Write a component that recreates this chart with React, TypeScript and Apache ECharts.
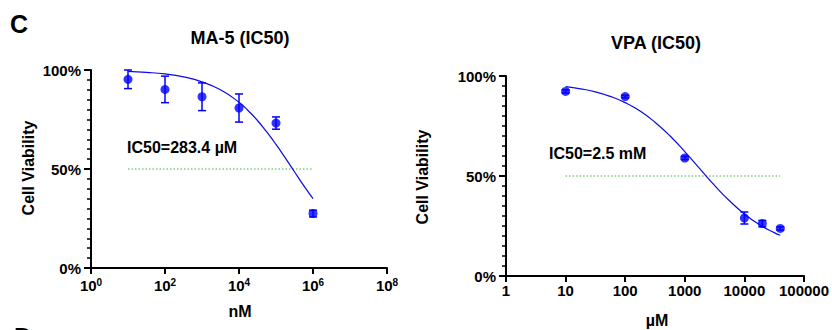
import React, { useEffect, useRef } from "react";
import * as echarts from "echarts";

// ---- Data ----
// MA-5, concentrations in nM
const ma5Conc = [10, 100, 1000, 10000, 100000, 1000000];
const ma5Viability = [95.3, 90.2, 86.5, 80.8, 73.2, 27.5];
const ma5Err = [4.7, 6.7, 7.0, 7.1, 3.1, 1.7];
const ma5FitConc = [10, 31.6, 100, 316, 1000, 3160, 10000, 17800, 31600, 56200, 100000, 178000, 316000, 562000, 1000000];
const ma5Fit = [99.3, 98.8, 98.0, 96.5, 94.0, 90.0, 83.7, 79.4, 74.5, 68.7, 62.4, 55.6, 48.6, 41.6, 35.0];
const ma5HalfConc = [10, 1000000];
const ma5Half = [50, 50];

// VPA, concentrations in µM
const vpaConc = [10, 100, 1000, 10000, 20000, 40000];
const vpaViability = [92.3, 89.7, 59.0, 29.0, 26.2, 23.8];
const vpaErr = [0.8, 0.6, 0.8, 3.0, 1.6, 0.8];
const vpaFitConc = [10, 17.8, 31.6, 56.2, 100, 178, 316, 562, 1000, 1780, 3160, 5620, 10000, 17800, 31600, 40000];
const vpaFit = [94.7, 93.6, 92.1, 89.8, 86.7, 82.5, 76.9, 70.1, 62.2, 53.7, 45.3, 37.6, 31.0, 25.7, 21.7, 20.4];
const vpaHalfConc = [10, 40000];
const vpaHalf = [50, 50];

const yTicks = [0, 50, 100];

const FONT = '"Liberation Sans", Arial, Helvetica, sans-serif';
const BLUE = "#0000ff";
const CURVE = "#0a0ae6";
const GREEN = "#3cb43c";

function zip(xs: number[], ys: number[]) {
  return xs.map((x, i) => [x, ys[i]]);
}

function errRender(params: any, api: any) {
  const x = api.value(0);
  const y = api.value(1);
  const e = api.value(2);
  const top = api.coord([x, y + e]);
  const bot = api.coord([x, y - e]);
  const cap = 4;
  const st = { stroke: BLUE, lineWidth: 1.5 };
  return {
    type: "group",
    children: [
      { type: "line", shape: { x1: top[0], y1: top[1], x2: bot[0], y2: bot[1] }, style: st },
      { type: "line", shape: { x1: top[0] - cap, y1: top[1], x2: top[0] + cap, y2: top[1] }, style: st },
      { type: "line", shape: { x1: bot[0] - cap, y1: bot[1], x2: bot[0] + cap, y2: bot[1] }, style: st },
    ],
  };
}

function yAxis(gridIndex: number) {
  return {
    type: "value",
    gridIndex,
    min: yTicks[0],
    max: yTicks[yTicks.length - 1],
    interval: yTicks[1] - yTicks[0],
    axisLine: { show: true, lineStyle: { color: "#000", width: 2 } },
    axisTick: { show: true, length: 7, lineStyle: { color: "#000", width: 2 } },
    minorTick: { show: true, splitNumber: 10, length: 4, lineStyle: { color: "#000", width: 1.5 } },
    splitLine: { show: false },
    axisLabel: {
      formatter: "{value}%",
      color: "#000",
      fontFamily: FONT,
      fontWeight: "bold",
      fontSize: 15,
      margin: 10,
    },
  };
}

export default function App() {
  const ref = useRef<HTMLDivElement>(null);
  useEffect(() => {
    if (!ref.current) return;
    const chart = echarts.init(ref.current, undefined, { renderer: "svg" });
    const axisBase = {
      axisLine: { show: true, lineStyle: { color: "#000", width: 2 } },
      axisTick: { show: true, length: 6, lineStyle: { color: "#000", width: 2 } },
      splitLine: { show: false },
      minorTick: { show: false },
    };
    const option: any = {
      animation: false,
      grid: [
        { left: 91, top: 70, width: 296, height: 198 },
        { left: 506, top: 76, width: 300, height: 200 },
      ],
      xAxis: [
        {
          type: "log",
          logBase: 10,
          gridIndex: 0,
          min: 1,
          max: 1e8,
          interval: 2,
          ...axisBase,
          axisLabel: {
            margin: 9,
            formatter: (v: number) => `{b|10}{s|${Math.round(Math.log10(v))}}`,
            rich: {
              b: { fontFamily: FONT, fontWeight: "bold", fontSize: 15, color: "#000", lineHeight: 16 },
              s: { fontFamily: FONT, fontWeight: "bold", fontSize: 10, color: "#000", verticalAlign: "top", lineHeight: 10 },
            },
          },
        },
        {
          type: "log",
          logBase: 10,
          gridIndex: 1,
          min: 1,
          max: 1e5,
          interval: 1,
          ...axisBase,
          axisLabel: {
            margin: 7,
            formatter: (v: number) => String(Math.round(v)),
            fontFamily: FONT,
            fontWeight: "bold",
            fontSize: 15,
            color: "#000",
          },
        },
      ],
      yAxis: [yAxis(0), yAxis(1)],
      series: [
        {
          type: "line",
          xAxisIndex: 0,
          yAxisIndex: 0,
          data: zip(ma5HalfConc, ma5Half),
          showSymbol: false,
          lineStyle: { color: GREEN, width: 1, type: [1.5, 2] },
          silent: true,
        },
        {
          type: "line",
          xAxisIndex: 0,
          yAxisIndex: 0,
          data: zip(ma5FitConc, ma5Fit),
          smooth: true,
          showSymbol: false,
          lineStyle: { color: CURVE, width: 1.2 },
        },
        {
          type: "custom",
          xAxisIndex: 0,
          yAxisIndex: 0,
          data: ma5Conc.map((c, i) => [c, ma5Viability[i], ma5Err[i]]),
          renderItem: errRender,
          encode: { x: 0, y: 1 },
          z: 3,
        },
        {
          type: "scatter",
          xAxisIndex: 0,
          yAxisIndex: 0,
          data: zip(ma5Conc, ma5Viability),
          symbolSize: 9,
          itemStyle: { color: BLUE },
          z: 4,
        },
        {
          type: "line",
          xAxisIndex: 1,
          yAxisIndex: 1,
          data: zip(vpaHalfConc, vpaHalf),
          showSymbol: false,
          lineStyle: { color: GREEN, width: 1, type: [1.5, 2] },
          silent: true,
        },
        {
          type: "line",
          xAxisIndex: 1,
          yAxisIndex: 1,
          data: zip(vpaFitConc, vpaFit),
          smooth: true,
          showSymbol: false,
          lineStyle: { color: CURVE, width: 1.2 },
        },
        {
          type: "custom",
          xAxisIndex: 1,
          yAxisIndex: 1,
          data: vpaConc.map((c, i) => [c, vpaViability[i], vpaErr[i]]),
          renderItem: errRender,
          encode: { x: 0, y: 1 },
          z: 3,
        },
        {
          type: "scatter",
          xAxisIndex: 1,
          yAxisIndex: 1,
          data: zip(vpaConc, vpaViability),
          symbolSize: 9,
          itemStyle: { color: BLUE },
          z: 4,
        },
      ],
      graphic: [
        { type: "text", left: 10, top: 11, style: { text: "C", font: `bold 25px ${FONT}`, fill: "#000" } },
        { type: "text", left: 14, top: 324, style: { text: "D", font: `bold 25px ${FONT}`, fill: "#000" } },
        { type: "text", x: 240, y: 38, style: { text: "MA-5 (IC50)", font: `bold 18px ${FONT}`, fill: "#000", align: "center", verticalAlign: "middle" } },
        { type: "text", x: 656, y: 43, style: { text: "VPA (IC50)", font: `bold 18px ${FONT}`, fill: "#000", align: "center", verticalAlign: "middle" } },
        { type: "text", x: 28, y: 168, rotation: Math.PI / 2, style: { text: "Cell Viability", font: `bold 16px ${FONT}`, fill: "#000", align: "center", verticalAlign: "middle" } },
        { type: "text", x: 422, y: 177, rotation: Math.PI / 2, style: { text: "Cell Viability", font: `bold 16px ${FONT}`, fill: "#000", align: "center", verticalAlign: "middle" } },
        { type: "text", x: 240, y: 311, style: { text: "nM", font: `bold 16px ${FONT}`, fill: "#000", align: "center", verticalAlign: "middle" } },
        { type: "text", x: 657, y: 320, style: { text: "µM", font: `bold 16px ${FONT}`, fill: "#000", align: "center", verticalAlign: "middle" } },
        { type: "text", x: 127, y: 147, style: { text: "IC50=283.4 µM", font: `bold 16px ${FONT}`, fill: "#000", align: "left", verticalAlign: "middle" } },
        { type: "text", x: 549, y: 153, style: { text: "IC50=2.5 mM", font: `bold 16px ${FONT}`, fill: "#000", align: "left", verticalAlign: "middle" } },
      ],
    };
    chart.setOption(option);
    return () => chart.dispose();
  }, []);
  return (
    <div
      ref={ref}
      style={{ position: "fixed", left: 0, top: 0, width: 832, height: 330, background: "#fff" }}
    />
  );
}
